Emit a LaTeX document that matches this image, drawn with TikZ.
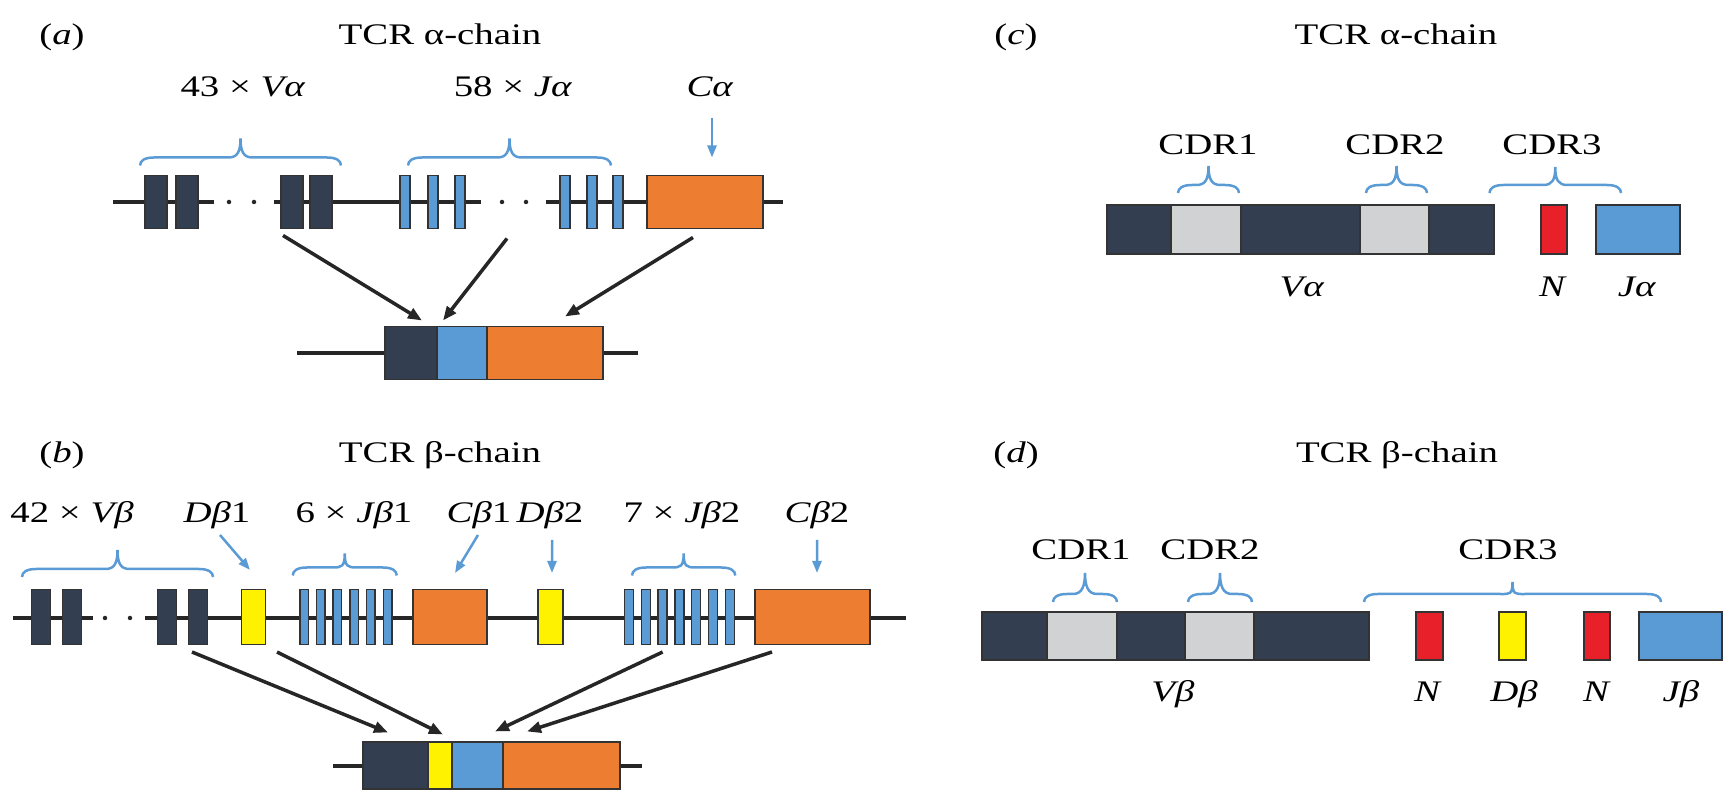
\documentclass[tikz,border=0pt]{standalone}
\usepackage{fontspec}
\setmainfont{Liberation Serif}[FakeStretch=1.3]
\usetikzlibrary{decorations.pathreplacing,arrows.meta,calc}

\begin{document}
\begin{tikzpicture}[x=0.1mm,y=-0.1mm,
		seg/.style={rectangle,draw=black!80,line width=0.15mm,inner sep=0,outer sep=0,minimum width=#1},
		vseg/.style={seg=#1,fill=vnavy},
		jseg/.style={seg=#1,fill=jblue},
		cseg/.style={seg=#1,fill=corange},
		dseg/.style={seg=#1,fill=dyellow},
		nseg/.style={seg=#1,fill=nred},
		gseg/.style={seg=#1,fill=cdrgray},
		lbl/.style={font=\fontsize{8.5}{10}\selectfont,anchor=base,inner sep=0},
		dna/.style={line width=0.4mm,black!85},
		gapdot/.style={circle,fill=black!85,inner sep=0,minimum size=0.45mm},
		curly/.style={jblue,line width=0.25mm,to path={let \p1=(\tikztostart), \p2=(\tikztotarget), \p3=($(\p1)!0.5!(\p2)$) in
			.. controls +(0,0.5mm) and +(-0.9mm,0) .. ($(\p1)+(1.4mm,0.8mm)$)
			-- ($(\p3)+(-1.2mm,0.8mm)$) .. controls +(0.9mm,0) and +(0,-1.3mm) .. ($(\p3)+(0,#1)$)
			.. controls +(0,-1.3mm) and +(-0.9mm,0) .. ($(\p3)+(1.2mm,0.8mm)$)
			-- ($(\p2)+(-1.4mm,0.8mm)$) .. controls +(0.9mm,0) and +(0,0.5mm) .. (\p2)}},
		blue arrow/.style={-{Triangle[length=1.2mm,width=0.9mm]},jblue,line width=0.25mm},
		join arrow/.style={-{Triangle[length=1.4mm,width=1.1mm]},black!85,line width=0.35mm}]
	\definecolor{vnavy}{HTML}{333F50}
	\definecolor{jblue}{HTML}{5B9BD5}
	\definecolor{corange}{HTML}{ED7D31}
	\definecolor{dyellow}{HTML}{FFF200}
	\definecolor{nred}{HTML}{E8202A}
	\definecolor{cdrgray}{HTML}{D1D2D4}
	\useasboundingbox (0,0) rectangle (1728,791);

	\node[lbl] (pa) at (62,45) {(\textit{a})};
	\node[lbl] (ta) at (440,45) {TCR α-chain};
	\node[lbl] (lva) at (243,97) {43 × \textit{Vα}};
	\node[lbl] (lja) at (513,97) {58 × \textit{Jα}};
	\node[lbl] (lca) at (710,97) {\textit{Cα}};
	\coordinate (a0) at (113,202);
	\coordinate (a1) at (214,202);
	\coordinate (a2) at (274,202);
	\coordinate (a3) at (481,202);
	\coordinate (a4) at (546,202);
	\coordinate (a5) at (783,202);
	\draw[dna] (a0) -- (a1) (a2) -- (a3) (a4) -- (a5);
	\node[gapdot] (da1) at (229,202) {};
	\node[gapdot] (da2) at (254,202) {};
	\node[gapdot] (da3) at (502,202) {};
	\node[gapdot] (da4) at (526,202) {};
	\begin{scope}[every node/.append style={minimum height=5.3mm}]
		\node[vseg=2.2mm] (va1) at (156,202) {};
		\node[vseg=2.2mm] (va2) at (187,202) {};
		\node[vseg=2.2mm] (va3) at (292,202) {};
		\node[vseg=2.2mm] (va4) at (321,202) {};
		\foreach \x [count=\i] in {405,433,460,565,592,618}
			\node[jseg=1mm] (ja\i) at (\x,202) {};
		\node[cseg=11.6mm] (ca) at (705,202) {};
	\end{scope}
	\draw[curly=2.7mm] ($(va1.north west)+(-5,-10)$) to ($(va4.north east)+(9,-10)$);
	\draw[curly=2.7mm] ($(ja1.north west)+(8,-10)$) to ($(ja6.north east)+(-12,-10)$);
	\draw[blue arrow] ($(lca.base)+(2,21)$) -- ($(ca.north)+(7,-18)$);
	\coordinate (ab0) at (297,353);
	\coordinate (ab1) at (638,353);
	\draw[dna] (ab0) -- (ab1);
	\begin{scope}[every node/.append style={minimum height=5.3mm}]
		\node[vseg=5.2mm] (av) at (411,353) {};
		\node[jseg=5mm] (aj) at (462,353) {};
		\node[cseg=11.6mm] (ac) at (545,353) {};
	\end{scope}
	\draw[join arrow] ($(va3.south)+(-9,7)$) -- ($(av.north east)+(-15,-6)$);
	\draw[join arrow] ($(ja3.south)+(47,10)$) -- ($(aj.north west)+(6,-6)$);
	\draw[join arrow] ($(ca.south)+(-12,9)$) -- ($(ac.north)+(20,-10)$);

	\node[lbl] (pb) at (62,463) {(\textit{b})};
	\node[lbl] (tb) at (440,463) {TCR β-chain};
	\node[lbl] (lvb) at (72,523) {42 × \textit{Vβ}};
	\node[lbl] (ldb1) at (217,523) {\textit{Dβ}1};
	\node[lbl] (ljb1) at (354,523) {6 × \textit{Jβ}1};
	\node[lbl] (lcb1) at (479,523) {\textit{Cβ}1};
	\node[lbl] (ldb2) at (550,523) {\textit{Dβ}2};
	\node[lbl] (ljb2) at (682,523) {7 × \textit{Jβ}2};
	\node[lbl] (lcb2) at (817,523) {\textit{Cβ}2};
	\coordinate (b0) at (13,618);
	\coordinate (b1) at (93,618);
	\coordinate (b2) at (145,618);
	\coordinate (b3) at (906,618);
	\draw[dna] (b0) -- (b1) (b2) -- (b3);
	\node[gapdot] (db1x) at (105,618) {};
	\node[gapdot] (db2x) at (130,618) {};
	\begin{scope}[every node/.append style={minimum height=5.5mm}]
		\node[vseg=1.9mm] (vb1) at (41,617) {};
		\node[vseg=1.9mm] (vb2) at (72,617) {};
		\node[vseg=1.9mm] (vb3) at (167,617) {};
		\node[vseg=1.9mm] (vb4) at (198,617) {};
		\node[dseg=2.4mm] (db1) at (253.5,617) {};
		\foreach \i in {1,...,6}
			\node[jseg=0.85mm] (jbx\i) at ({304+16.7*(\i-1)},617) {};
		\node[cseg=7.4mm] (cb1) at (450,617) {};
		\node[dseg=2.5mm] (db2) at (550.5,617) {};
		\foreach \i in {1,...,7}
			\node[jseg=0.9mm] (jby\i) at ({629+16.8*(\i-1)},617) {};
		\node[cseg=11.5mm] (cb2) at (812.5,617) {};
	\end{scope}
	\draw[curly=2.7mm] ($(vb1.north west)+(-9.5,-12.5)$) to ($(vb4.north east)+(5.5,-12.5)$);
	\draw[curly=2.2mm] ($(jbx1.north west)+(-7,-14)$) to ($(jbx6.north east)+(5,-14)$);
	\draw[curly=2.2mm] ($(jby1.north west)+(7.5,-14)$) to ($(jby7.north east)+(1,-14)$);
	\draw[blue arrow] ($(ldb1.base)+(3,12)$) -- ($(db1.north)+(-3.5,-19.5)$);
	\draw[blue arrow] ($(lcb1.base)+(-1,12)$) -- ($(cb1.north)+(5,-16.5)$);
	\draw[blue arrow] ($(ldb2.base)+(2,17)$) -- ($(db2.north)+(1.5,-16.5)$);
	\draw[blue arrow] ($(lcb2.base)+(0,17)$) -- ($(cb2.north)+(4.5,-16.5)$);
	\coordinate (bb0) at (333,766);
	\coordinate (bb1) at (642,766);
	\draw[dna] (bb0) -- (bb1);
	\begin{scope}[every node/.append style={minimum height=4.7mm}]
		\node[vseg=6.5mm] (bv) at (395.5,765.5) {};
		\node[dseg=2.4mm] (bd) at (440,765.5) {};
		\node[jseg=5.1mm] (bj) at (477.5,765.5) {};
		\node[cseg=11.7mm] (bc) at (561.5,765.5) {};
	\end{scope}
	\draw[join arrow] ($(vb4.south)+(-6,7.5)$) -- ($(bv.north)+(-7.5,-9.5)$);
	\draw[join arrow] ($(db1.south)+(23.5,7.5)$) -- ($(bd.north)+(3,-7.5)$);
	\draw[join arrow] ($(jby3.south)+(0,7.5)$) -- ($(bj.north)+(17.5,-10.5)$);
	\draw[join arrow] ($(cb2.south)+(-40.5,7.5)$) -- ($(bc.north west)+(24,-10.5)$);

	\node[lbl] (pc) at (1016,45) {(\textit{c})};
	\node[lbl] (tc) at (1396,45) {TCR α-chain};
	\begin{scope}[every node/.append style={minimum height=4.9mm}]
		\node[vseg=38.7mm] (cv) at (1300.5,229.5) {};
		\node[gseg=7mm] (cg1) at (1206,229.5) {};
		\node[gseg=6.9mm] (cg2) at (1394.5,229.5) {};
		\node[nseg=2.6mm] (cn) at (1554,229.5) {};
		\node[jseg=8.4mm] (cj) at (1638,229.5) {};
	\end{scope}
	\node[lbl] (lc1) at (1208,155) {CDR1};
	\node[lbl] (lc2) at (1395,155) {CDR2};
	\node[lbl] (lc3) at (1552,155) {CDR3};
	\node[lbl] (lcv) at (1302,297) {\textit{Vα}};
	\node[lbl] (lcn) at (1553,297) {\textit{N}};
	\node[lbl] (lcj) at (1637,297) {\textit{Jα}};
	\draw[curly=2.7mm] ($(cg1.north west)+(7,-12)$) to ($(cg1.north east)+(-2,-12)$);
	\draw[curly=2.7mm] ($(cg2.north west)+(6,-12)$) to ($(cg2.north east)+(-2,-12)$);
	\draw[curly=2.6mm] ($(cv.north east)+(-4.5,-12)$) to ($(cj.north west)+(25,-12)$);

	\node[lbl] (pd) at (1016,463) {(\textit{d})};
	\node[lbl] (td) at (1397,463) {TCR β-chain};
	\begin{scope}[every node/.append style={minimum height=4.8mm}]
		\node[vseg=38.7mm] (dv) at (1175.5,636) {};
		\node[gseg=7mm] (dg1) at (1082,636) {};
		\node[gseg=6.9mm] (dg2) at (1219.5,636) {};
		\node[nseg=2.7mm] (dn1) at (1429.5,636) {};
		\node[dseg=2.7mm] (dd) at (1512.5,636) {};
		\node[nseg=2.6mm] (dn2) at (1597,636) {};
		\node[jseg=8.3mm] (dj) at (1680.5,636) {};
	\end{scope}
	\node[lbl] (ld1) at (1081,560) {CDR1};
	\node[lbl] (ld2) at (1210,560) {CDR2};
	\node[lbl] (ld3) at (1508,560) {CDR3};
	\node[lbl] (ldv) at (1173,701) {\textit{Vβ}};
	\node[lbl] (ldn1) at (1428,701) {\textit{N}};
	\node[lbl] (ldd) at (1514,701) {\textit{Dβ}};
	\node[lbl] (ldn2) at (1597,701) {\textit{N}};
	\node[lbl] (ldj) at (1681,701) {\textit{Jβ}};
	\draw[curly=2.9mm] ($(dg1.north west)+(6,-10)$) to ($(dg1.north east)+(0,-10)$);
	\draw[curly=2.9mm] ($(dg2.north west)+(3,-10)$) to ($(dg2.north east)+(-2,-10)$);
	\draw[curly=2mm] ($(dv.north east)+(-5,-10)$) to ($(dj.north west)+(22,-10)$);
\end{tikzpicture}
\end{document}
